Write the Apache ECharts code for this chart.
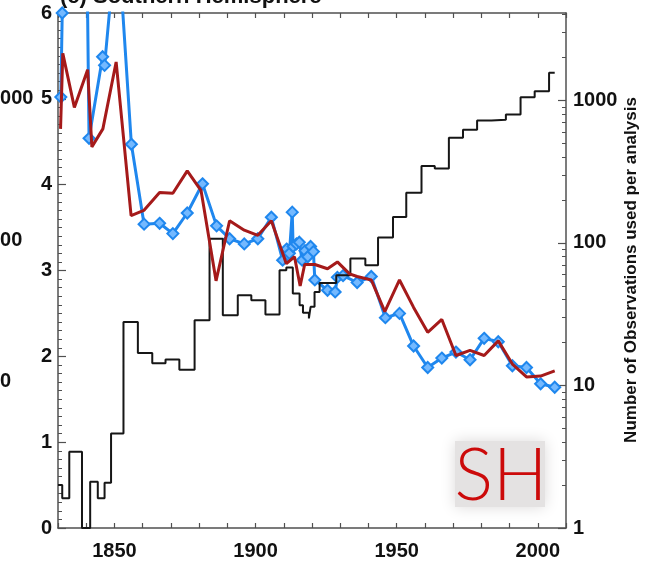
<!DOCTYPE html>
<html><head><meta charset="utf-8">
<script src="https://cdn.jsdelivr.net/npm/echarts@6/dist/echarts.min.js"></script>
<style>html,body{margin:0;padding:0;background:#fff}#c{width:654px;height:569px}</style>
</head><body><div id="c"></div>
<script>
// ---- data ----
const blueYears = [1831, 1831.5, 1836, 1841, 1845.8, 1846.5, 1851, 1856, 1860.5, 1866, 1870.7, 1875.8, 1881.2, 1886.2, 1890.8, 1896, 1900.8, 1905.6, 1909.6, 1911, 1912, 1913, 1913.3, 1914.5, 1915.5, 1916.5, 1917.5, 1918.5, 1919.5, 1920.5, 1921, 1925.5, 1928.2, 1929, 1931, 1936, 1941, 1946, 1951, 1956, 1961, 1966, 1971, 1976, 1981, 1986, 1991, 1996, 2001, 2006];
const blueValues = [5.02, 6.0, 19, 4.54, 5.49, 5.39, 7.0, 4.47, 3.54, 3.55, 3.43, 3.67, 4.01, 3.52, 3.37, 3.31, 3.37, 3.62, 3.12, 3.25, 3.20, 3.68, 3.28, 3.31, 3.33, 3.12, 3.23, 3.16, 3.28, 3.22, 2.89, 2.77, 2.75, 2.92, 2.94, 2.86, 2.93, 2.45, 2.50, 2.12, 1.87, 1.98, 2.05, 1.96, 2.21, 2.17, 1.89, 1.87, 1.68, 1.64];

const redYears = [1830.9, 1831.7, 1835.8, 1840.5, 1842, 1845.9, 1850.6, 1855.9, 1860.4, 1866, 1870.7, 1875.8, 1880.7, 1886, 1890.8, 1896, 1900.8, 1905.6, 1910.9, 1913.8, 1915.8, 1917.4, 1921, 1925.5, 1929, 1933.3, 1936, 1941, 1945.8, 1951, 1956, 1961, 1966, 1971, 1976, 1981, 1986, 1991, 1996, 2001, 2006];
const redValues = [4.65, 5.53, 4.90, 5.34, 4.44, 4.65, 5.43, 3.64, 3.70, 3.91, 3.90, 4.16, 3.93, 2.88, 3.58, 3.47, 3.41, 3.58, 3.08, 3.16, 2.82, 3.07, 3.07, 3.02, 3.10, 2.96, 2.93, 2.89, 2.52, 2.89, 2.57, 2.28, 2.43, 2.01, 2.07, 2.01, 2.18, 1.91, 1.76, 1.77, 1.83];

const obsYears = [1830, 1831.5, 1834, 1838.5, 1841.4, 1844.1, 1846.5, 1848.8, 1853.2, 1858.3, 1863.4, 1868.1, 1873, 1878.4, 1883.7, 1888.4, 1893.7, 1898.5, 1903.5, 1908.5, 1910.9, 1913.2, 1915.6, 1916.8, 1918.9, 1919.5, 1920.9, 1922.7, 1928.6, 1933.6, 1938.9, 1943.4, 1948.7, 1953.4, 1958.8, 1963.5, 1968.5, 1973.5, 1978.5, 1983.6, 1988.7, 1993.9, 1998.9, 2004, 2006];
const obsCounts = [2.0, 1.62, 3.43, 1, 2.11, 1.62, 2.08, 4.6, 27.9, 16.9, 14.3, 15.2, 12.9, 28.7, 107, 31.1, 42.9, 39.6, 31.4, 64.3, 67.1, 44.1, 36.5, 32.3, 29.5, 35.6, 45.3, 52.4, 59.3, 77.6, 69.7, 109, 152, 225, 346, 332, 547, 622, 723, 731, 796, 1052, 1159, 1560, 1560];

const xTickLabels = [1850, 1900, 1950, 2000];
const leftTickLabels = [0, 1, 2, 3, 4, 5, 6];
const rightTickLabels = [1, 10, 100, 1000];
const leftCutLabels = ['1000', '100', '10'];

// ---- chart ----
const FONT = "'Liberation Sans', Arial, Helvetica, sans-serif";
const AX = '#505050';
const plain = v => String(Math.round(v));
const rightMinor = [];
for (let d = 1; d <= 1000; d *= 10) for (let k = 2; k <= 9; k++) if (d * k <= 4100) rightMinor.push(d * k);

const zip = (a, b) => a.map((v, i) => [v, b[i]]);

function xAx(pos, labels) {
  return {
    type: 'value', min: 1830, max: 2010, interval: 10, position: pos,
    axisLine: {show: true, onZero: false, lineStyle: {color: AX, width: 1.5}},
    axisTick: {show: true, inside: true, length: 5, lineStyle: {color: AX, width: 1.2}},
    axisLabel: labels ? {show: true, customValues: xTickLabels, formatter: plain, fontSize: 20, fontWeight: 'bold', color: '#111', margin: 13, fontFamily: FONT} : {show: false},
    splitLine: {show: false}
  };
}

const option = {
  animation: false,
  backgroundColor: '#fff',
  grid: {left: 58, right: 88, top: 13, bottom: 41, containLabel: false},
  xAxis: [xAx('bottom', true), xAx('top', false)],
  yAxis: [
    {type: 'value', min: 0, max: 6, interval: 1, position: 'left',
     axisLine: {show: true, onZero: false, lineStyle: {color: AX, width: 1.5}},
     axisTick: {show: true, inside: true, length: 8, lineStyle: {color: AX, width: 1.2}},
     minorTick: {show: true, splitNumber: 10, length: 4, lineStyle: {color: AX, width: 1}},
     axisLabel: {formatter: plain, fontSize: 20, fontWeight: 'bold', color: '#111', margin: 6, fontFamily: FONT},
     splitLine: {show: false}, minorSplitLine: {show: false}},
    {type: 'log', logBase: 10, min: 1, max: 4100, position: 'right',
     axisLine: {show: true, onZero: false, lineStyle: {color: AX, width: 1.5}},
     axisTick: {show: true, inside: true, length: 8, customValues: rightTickLabels, lineStyle: {color: AX, width: 1.2}},
     axisLabel: {customValues: rightTickLabels, formatter: plain, fontSize: 20, fontWeight: 'bold', color: '#111', margin: 7, fontFamily: FONT},
     splitLine: {show: false}},
    {type: 'log', logBase: 10, min: 1, max: 4100, position: 'right',
     axisLine: {show: false},
     axisTick: {show: true, inside: true, length: 4, customValues: rightMinor, lineStyle: {color: AX, width: 1}},
     axisLabel: {show: false}, splitLine: {show: false}}
  ],
  series: [
    {type: 'line', xAxisIndex: 0, yAxisIndex: 0, data: zip(blueYears, blueValues), z: 2,
     symbol: 'diamond', symbolSize: 11, showAllSymbol: true, clip: true,
     lineStyle: {color: '#1f87ee', width: 3},
     itemStyle: {color: '#74b9ff', borderColor: '#1f87ee', borderWidth: 2}},
    {type: 'line', xAxisIndex: 0, yAxisIndex: 1, data: zip(obsYears, obsCounts), z: 3,
     step: 'end', showSymbol: false, clip: true,
     lineStyle: {color: '#161616', width: 2}},
    {type: 'line', xAxisIndex: 0, yAxisIndex: 0, data: zip(redYears, redValues), z: 4,
     showSymbol: false, clip: true,
     lineStyle: {color: '#a51a1a', width: 3}}
  ],
  graphic: [
    {type: 'text', left: 60, top: -14, z: 10,
     style: {text: '(c) Southern Hemisphere', font: 'bold 22px ' + FONT, fill: '#111'}},
    {type: 'text', x: -11, y: 98, z: 10, style: {text: leftCutLabels[0], font: 'bold 20px ' + FONT, fill: '#111', verticalAlign: 'middle'}},
    {type: 'text', x: -11, y: 240, z: 10, style: {text: leftCutLabels[1], font: 'bold 20px ' + FONT, fill: '#111', verticalAlign: 'middle'}},
    {type: 'text', x: -11, y: 381, z: 10, style: {text: leftCutLabels[2], font: 'bold 20px ' + FONT, fill: '#111', verticalAlign: 'middle'}},
    {type: 'text', x: 631, y: 270, rotation: Math.PI / 2, z: 10,
     style: {text: 'Number of Observations used per analysis', font: 'bold 17px ' + FONT, fill: '#111', align: 'center', verticalAlign: 'middle'}},
    {type: 'rect', shape: {x: 455, y: 441, width: 90, height: 66}, z: 20,
     style: {fill: '#e4e2e2', shadowBlur: 14, shadowColor: '#dcdada'}},
    {type: 'text', x: 501, y: 477, z: 21,
     style: {text: 'SH', font: '300 72px Lato, "Open Sans", sans-serif', fill: '#cc0a0a', align: 'center', verticalAlign: 'middle'}}
  ]
};

const chart = echarts.init(document.getElementById('c'), null, {renderer: 'canvas'});
chart.setOption(option);
</script></body></html>
